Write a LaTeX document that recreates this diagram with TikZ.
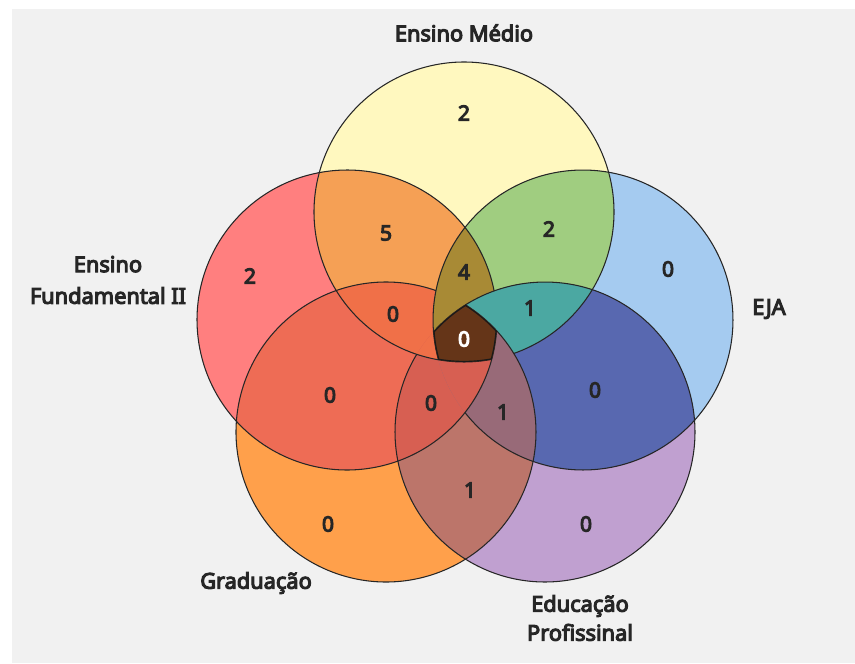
\documentclass[tikz,border=0pt]{standalone}
\usepackage{fontspec}
\setmainfont{Noto Sans}
\newfontfamily\vennfont{Noto Sans}[AutoFakeBold=5]
\usepackage{tikz}

\definecolor{bgc}{RGB}{241,241,241}
\definecolor{cY}{RGB}{255,248,191}
\definecolor{cR}{RGB}{255,127,127}
\definecolor{cB}{RGB}{165,203,240}
\definecolor{cO}{RGB}{255,160,75}
\definecolor{cP}{RGB}{192,160,208}
\definecolor{cYR}{RGB}{245,160,85}
\definecolor{cYB}{RGB}{160,205,128}
\definecolor{cRO}{RGB}{238,108,85}
\definecolor{cBP}{RGB}{88,104,176}
\definecolor{cOP}{RGB}{188,117,106}
\definecolor{cYRO}{RGB}{240,112,72}
\definecolor{cYRB}{RGB}{168,138,53}
\definecolor{cYBP}{RGB}{75,168,162}
\definecolor{cROP}{RGB}{215,95,82}
\definecolor{cBOP}{RGB}{152,106,120}
\definecolor{cAll}{RGB}{101,53,24}

\begin{document}
\begin{tikzpicture}[x=0.02cm, y=0.02cm,
    ln/.style={draw=black!85, line width=0.6pt},
    lab/.style={font=\vennfont\bfseries\fontsize{12.4}{18}\selectfont, text=black!85, align=center},
    num/.style={font=\vennfont\bfseries\fontsize{12}{13}\selectfont, text=black!85}
  ]
    \def\rad{3cm}
    % ---- background ----
    \useasboundingbox (0,0) rectangle (855,-663);
    \fill[white] (0,0) rectangle (855,-663);
    \fill[bgc] (12,-9) rectangle (855,-663);
    % ---- circle centres ----
    \coordinate (Y) at (464,-212);
    \coordinate (R) at (347,-320);
    \coordinate (B) at (583,-320);
    \coordinate (O) at (386,-432);
    \coordinate (P) at (545,-432);
    % ---- one set ----
    \foreach \ca in {Y,R,B,O,P} \fill[fill=c\ca] (\ca) circle (\rad);
    % ---- two sets ----
    \foreach \ca/\cb in {Y/R,Y/B,R/O,B/P,O/P}{
      \begin{scope}
        \clip (\ca) circle (\rad);
        \fill[fill=c\ca\cb] (\cb) circle (\rad);
      \end{scope}}
    % ---- three sets ----
    \foreach \ca/\cb/\cc/\col in {Y/R/O/YRO,Y/R/B/YRB,Y/B/P/YBP,R/O/P/ROP,B/O/P/BOP}{
      \begin{scope}
        \clip (\ca) circle (\rad);
        \clip (\cb) circle (\rad);
        \fill[fill=c\col] (\cc) circle (\rad);
      \end{scope}}
    % ---- four sets, shown with a neighbour ----
    \foreach \ca/\cb/\cc/\cd/\col in {Y/R/B/O/YRB,Y/R/B/P/YBP,Y/B/O/P/BOP,R/B/O/P/ROP,Y/R/O/P/YRO}{
      \begin{scope}
        \clip (\ca) circle (\rad);
        \clip (\cb) circle (\rad);
        \clip (\cc) circle (\rad);
        \fill[fill=c\col] (\cd) circle (\rad);
      \end{scope}}
    % ---- outlines (small arcs left out) ----
    \draw[ln] (Y) ++(-70.6:\rad) arc[start angle=-70.6, end angle=280.6, radius=\rad];
    \draw[ln] (R) ++(11.2:\rad) arc[start angle=11.2, end angle=355.9, radius=\rad];
    \draw[ln] (B) ++(218.1:\rad) arc[start angle=218.1, end angle=555.4, radius=\rad];
    \draw[ln] (O) ++(70.6:\rad) arc[start angle=70.6, end angle=418.0, radius=\rad];
    \draw[ln] (P) ++(148.8:\rad) arc[start angle=148.8, end angle=498.0, radius=\rad];
    % ---- all five ----
    \begin{scope}
      \clip (Y) circle (\rad);
      \clip (R) circle (\rad);
      \clip (B) circle (\rad);
      \clip (O) circle (\rad);
      \clip (P) circle (\rad);
      \fill[cAll] (Y) circle (\rad);
      \foreach \ca in {Y,R,B,O,P} \draw[draw=black!90, line width=1.3pt] (\ca) circle (\rad);
    \end{scope}
    % ---- counts ----
    \node[num] (nY) at (464,-113) {2};
    \node[num] (nR) at (250,-276) {2};
    \node[num] (nB) at (668,-269) {0};
    \node[num] (nO) at (328,-524) {0};
    \node[num] (nP) at (586,-524) {0};
    \node[num] (nYR) at (386,-233) {5};
    \node[num] (nYB) at (549,-229) {2};
    \node[num] (nRO) at (330,-395) {0};
    \node[num] (nBP) at (595,-390) {0};
    \node[num] (nOP) at (470,-490) {1};
    \node[num] (nYRO) at (393,-314) {0};
    \node[num] (nYRB) at (464,-272) {4};
    \node[num] (nYBP) at (530,-308) {1};
    \node[num] (nROP) at (431,-403) {0};
    \node[num] (nBOP) at (503,-412) {1};
    \node[num, text=white] (nAll) at (464,-339) {0};
    % ---- set names ----
    \node[lab] (lY) at (464,-33) {Ensino Médio};
    \node[lab] (lR) at (108,-280) {Ensino\\Fundamental II};
    \node[lab] (lB) at (769,-309) {EJA};
    \node[lab] (lO) at (256,-583) {Graduação};
    \node[lab, font=\vennfont\bfseries\fontsize{12.4}{16.5}\selectfont] (lP) at (580,-618) {Educação\\Profissinal};
  \end{tikzpicture}
\end{document}
